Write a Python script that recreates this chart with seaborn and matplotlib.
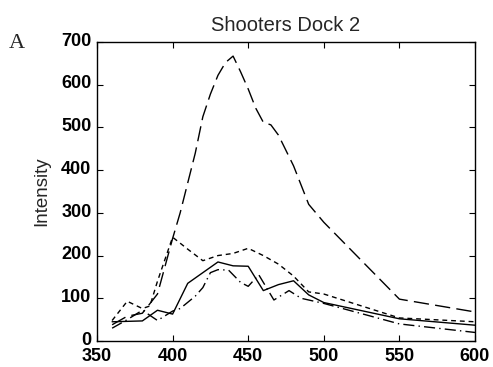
import matplotlib
matplotlib.use("Agg")
import matplotlib.pyplot as plt
import matplotlib.transforms as mtransforms
import pandas as pd
import seaborn as sns

# Emission spectra: excitation wavelength (nm) vs intensity, four samples
wl_solid = [360, 370, 380, 390, 400, 410, 420, 430, 440, 450, 460, 470, 480, 490, 500, 550, 600]
int_solid = [45, 46, 47, 72, 63, 135, 160, 185, 176, 175, 118, 132, 141, 108, 90, 52, 37]

wl_dash = [360, 370, 380, 390, 400, 405, 410, 415, 420, 425, 430, 435, 440, 445,
           450, 455, 460, 465, 470, 480, 490, 500, 550, 600]
int_dash = [38, 58, 65, 110, 240, 300, 370, 440, 525, 578, 622, 652, 667, 630,
            590, 545, 512, 506, 482, 410, 320, 278, 98, 68]

wl_dot = [360, 370, 380, 385, 390, 400, 410, 420, 430, 440, 450, 460, 470, 480, 490, 500, 550, 600]
int_dot = [48, 93, 76, 82, 140, 243, 215, 188, 200, 205, 217, 200, 180, 152, 115, 110, 54, 45]

wl_dashdot = [360, 370, 380, 390, 400, 405, 415, 420, 425, 430, 437, 445, 450, 457,
              467, 477, 485, 500, 550, 600]
int_dashdot = [30, 50, 72, 48, 70, 76, 105, 125, 160, 167, 166, 137, 128, 155,
               96, 118, 100, 88, 40, 20]

x_ticks = [350, 400, 450, 500, 550, 600]
y_ticks = [0, 100, 200, 300, 400, 500, 600, 700]

sns.set_style("ticks")
plt.rcParams["font.family"] = ["Liberation Sans", "DejaVu Sans"]
plt.rcParams["lines.scale_dashes"] = False

fig = plt.figure(figsize=(4.93, 3.67), dpi=100)
ax = fig.add_axes([97 / 493, 1 - 341 / 367, (475 - 97) / 493, (341 - 42) / 367])

series = [
    (wl_solid, int_solid, "-"),
    (wl_dash, int_dash, (0, (11, 4.5))),
    (wl_dot, int_dot, (0, (3.5, 2.8))),
    (wl_dashdot, int_dashdot, (0, (8, 3, 1, 3))),
]
for xs, ys, ls in series:
    df = pd.DataFrame({"wavelength": xs, "intensity": ys})
    sns.lineplot(data=df, x="wavelength", y="intensity", ax=ax,
                 color="black", linewidth=1.0, linestyle=ls)

ax.set_xlim(350, 600)
ax.set_ylim(0, 700)
ax.set_xticks(x_ticks)
ax.set_yticks(y_ticks)
ax.tick_params(direction="in", length=4, width=0.8, top=True, right=True,
               labelsize=13, colors="black")
ax.tick_params(axis="x", pad=5)
ax.tick_params(axis="y", pad=4)
for lab in ax.get_xticklabels() + ax.get_yticklabels():
    lab.set_fontweight("bold")
# lift the y labels a touch so the bottom "0" clears the x labels
lift = mtransforms.ScaledTranslation(0, 2 / 72, fig.dpi_scale_trans)
for lab in ax.get_yticklabels():
    lab.set_transform(lab.get_transform() + lift)
for side in ax.spines.values():
    side.set_linewidth(1.0)
    side.set_color("black")

ax.set_xlabel("")
ax.set_ylabel("Intensity", fontsize=13.5, labelpad=8)
ax.set_title("Shooters Dock 2", fontsize=14.5, pad=8)
fig.text(17 / 493, 1 - 44 / 367, "A", family="Liberation Serif", fontsize=16,
         ha="center", va="center")

fig.savefig("out.png", dpi=100)
